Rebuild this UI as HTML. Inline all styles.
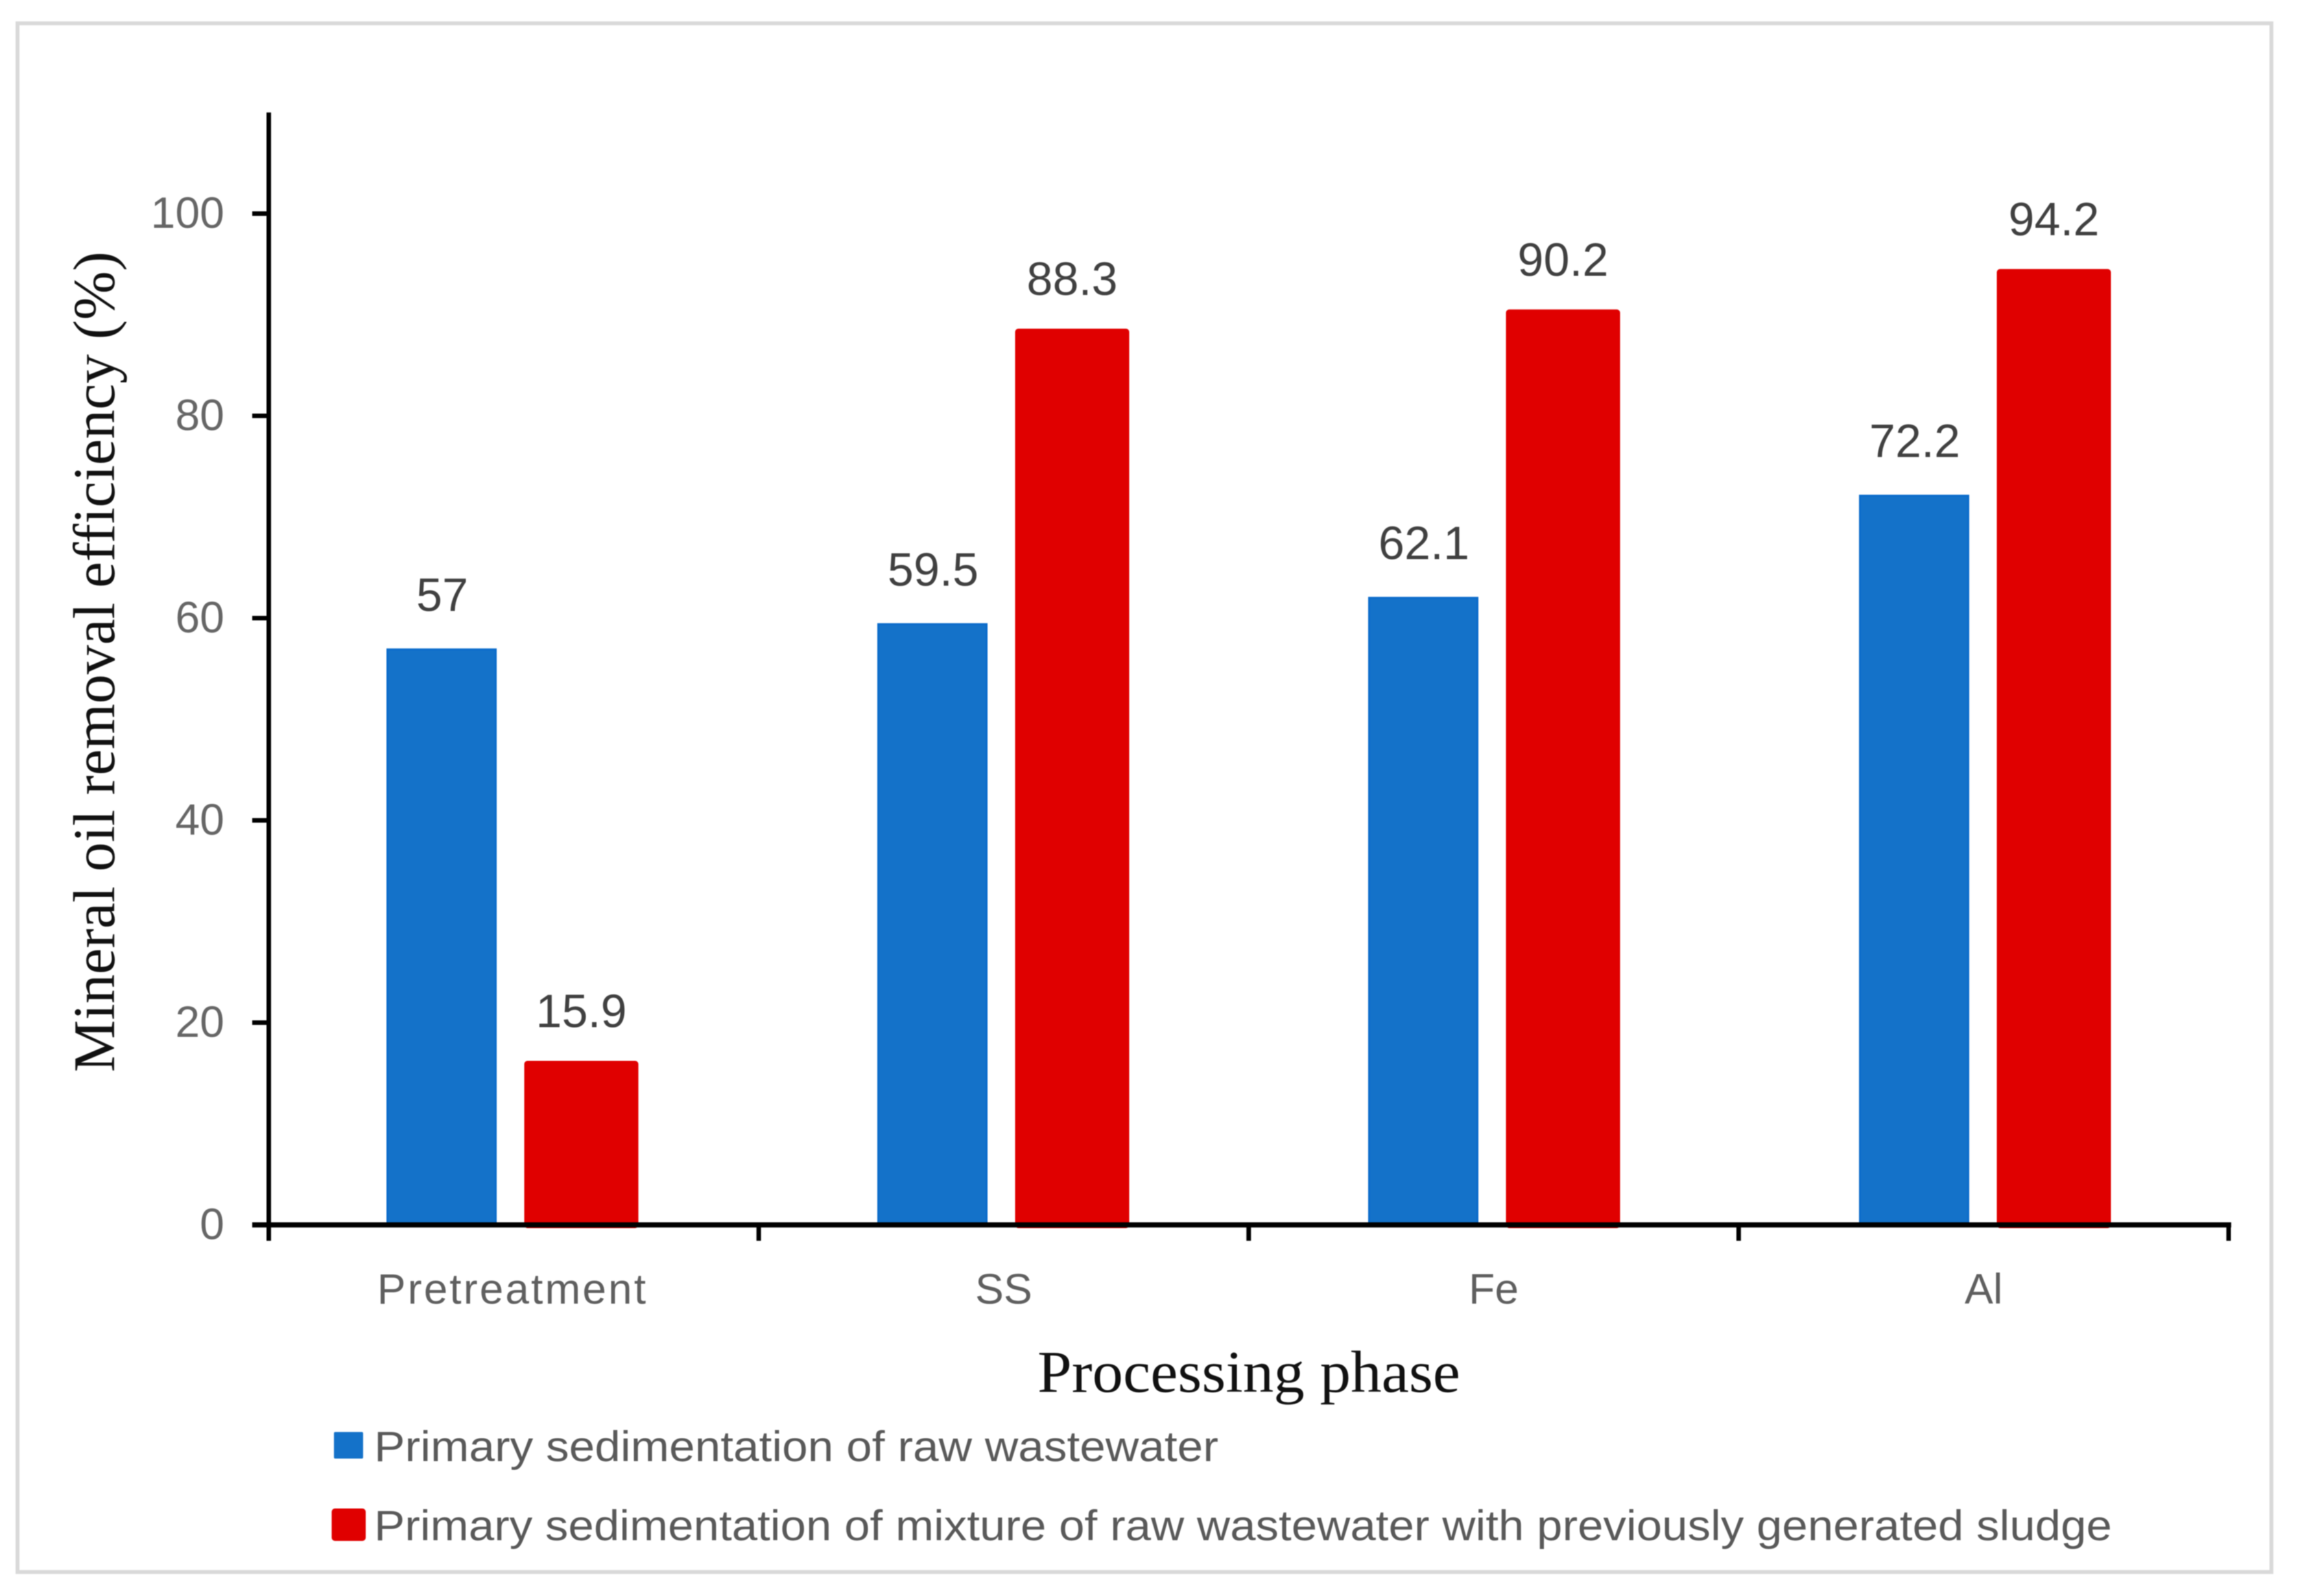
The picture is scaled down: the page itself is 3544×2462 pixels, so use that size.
<!DOCTYPE html>
<html lang="en">
<head>
<meta charset="utf-8">
<title>Mineral oil removal efficiency by processing phase</title>
<style>
  html, body { margin: 0; padding: 0; background: #fff; }
  body { width: 3544px; height: 2462px; overflow: hidden; }
  svg { display: block; filter: blur(0.9px); }
  .sans { font-family: "Liberation Sans", "DejaVu Sans", sans-serif; }
  .serif { font-family: "Liberation Serif", "DejaVu Serif", serif; }
</style>
</head>
<body>
<svg id="chart" xmlns="http://www.w3.org/2000/svg" width="3544" height="2462" viewBox="0 0 3544 2462">
  <rect x="0" y="0" width="3544" height="2462" fill="#ffffff"/>
  <rect x="27" y="36" width="3476" height="2389" fill="#ffffff" stroke="#d9d9d9" stroke-width="6"/>
  <g id="bars"></g>
  <g id="value-labels"></g>
  <g id="axes"></g>
  <text class="serif" x="176" y="1654" transform="rotate(-90 176 1654)" font-size="91" fill="#111111" textLength="1266" lengthAdjust="spacingAndGlyphs">Mineral oil removal efficiency (%)</text>
  <text class="serif" x="1600" y="2147" font-size="91" fill="#111111" textLength="652" lengthAdjust="spacingAndGlyphs">Processing phase</text>
  <g>
    <g>
      <rect x="515" y="2209" width="45" height="41" rx="2" fill="#1472c9"/>
      <text class="sans" x="577" y="2254" font-size="66" fill="#595959" textLength="1302" lengthAdjust="spacingAndGlyphs">Primary sedimentation of raw wastewater</text>
    </g>
    <g>
      <rect x="511.5" y="2327" width="52.5" height="50" rx="5" fill="#e00000"/>
      <text class="sans" x="577" y="2376" font-size="66" fill="#595959" textLength="2680" lengthAdjust="spacingAndGlyphs">Primary sedimentation of mixture of raw wastewater with previously generated sludge</text>
    </g>
  </g>
</svg>
<script>
const categories = ["Pretreatment", "SS", "Fe", "Al"];
const rawWastewater = [57, 59.5, 62.1, 72.2];
const mixtureWithSludge = [15.9, 88.3, 90.2, 94.2];
const yTickLabels = [0, 20, 40, 60, 80, 100];
const yAxisMax = 110;

const NS = "http://www.w3.org/2000/svg";
const plotLeft = 414.5;
const plotRight = 3437;
const plotBottom = 1889.5;
const plotTop = 173.5;

function yScale(v) {
  return plotBottom - (v / yAxisMax) * (plotBottom - plotTop);
}
function xTick(i) {
  return plotLeft + i * (plotRight - plotLeft) / categories.length;
}
function xBand(i) {
  return xTick(i) + (plotRight - plotLeft) / categories.length / 2;
}
function barGroupCenter(i) {
  return 789.5 + i * 757;
}
function make(tag, attrs, parent) {
  const el = document.createElementNS(NS, tag);
  for (const k in attrs) el.setAttribute(k, attrs[k]);
  parent.appendChild(el);
  return el;
}

const barsLayer = document.getElementById("bars");
const labelsLayer = document.getElementById("value-labels");
const axesLayer = document.getElementById("axes");

categories.forEach(function (cat, i) {
  // blue series: fill stays within the value height
  const bx = barGroupCenter(i) - 108.5;
  const by = yScale(rawWastewater[i]);
  const blue = make("rect", {
    x: bx - 83.5, y: by + 1.5, width: 167, height: plotBottom - by - 1.5,
    fill: "#1472c9", stroke: "#0a6bcb", "stroke-width": 3
  }, barsLayer);
  
  

  // red series: drawn with a thick round-joined outline, as in the source
  const rx = barGroupCenter(i) + 107;
  const ry = yScale(mixtureWithSludge[i]);
  const red = make("rect", {
    x: rx - 83, y: ry, width: 166, height: plotBottom - ry,
    fill: "#e00000", stroke: "#e00000", "stroke-width": 10, "stroke-linejoin": "round"
  }, barsLayer);
  
  

  const blueLabel = make("text", {
    x: bx + 1, y: by - 58, "text-anchor": "middle", "font-size": 72, fill: "#404040", class: "sans"
  }, labelsLayer);
  blueLabel.textContent = String(rawWastewater[i]);
  
  

  const redLabel = make("text", {
    x: rx, y: ry - 57, "text-anchor": "middle", "font-size": 72, fill: "#404040", class: "sans"
  }, labelsLayer);
  redLabel.textContent = String(mixtureWithSludge[i]);
  
  

  const catLabel = make("text", {
    x: xBand(i) - (cat.length > 6 ? 2 : 0), y: 2011, "text-anchor": "middle", "font-size": 66, fill: "#5f5f5f", class: "sans"
  }, axesLayer);
  if (cat.length > 6) catLabel.setAttribute("letter-spacing", "3");
  catLabel.textContent = cat;
  
  
});

const yAxisLine = make("line", {
  x1: plotLeft, x2: plotLeft, y1: yScale(yAxisMax), y2: 1914, stroke: "#000", "stroke-width": 7
}, axesLayer);



const xAxisLine = make("line", {
  x1: 389, x2: plotRight + 4, y1: plotBottom, y2: plotBottom, stroke: "#000", "stroke-width": 8
}, axesLayer);



yTickLabels.forEach(function (t) {
  const tick = make("line", {
    x1: 389, x2: plotLeft, y1: yScale(t), y2: yScale(t), stroke: "#000", "stroke-width": 7
  }, axesLayer);
  
  

  const label = make("text", {
    x: 346, y: yScale(t) + 22, "text-anchor": "end", "font-size": 68, fill: "#666666", class: "sans"
  }, axesLayer);
  label.textContent = String(t);
  
  
});

for (let i = 1; i <= categories.length; i++) {
  const xt = make("line", {
    x1: xTick(i), x2: xTick(i), y1: plotBottom, y2: 1914, stroke: "#000", "stroke-width": 7
  }, axesLayer);
  
  
}
</script>
</body>
</html>
